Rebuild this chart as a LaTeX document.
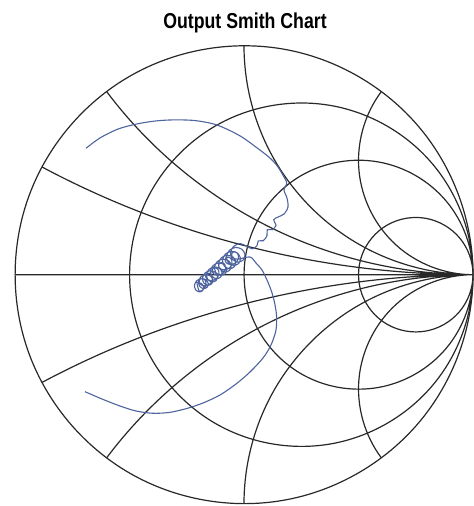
\documentclass[border=0pt]{standalone}
\usepackage{fontspec}
\setmainfont{Liberation Sans}
\usepackage{pgfplots}
\pgfplotsset{compat=1.18}
\usepgfplotslibrary{smithchart}

\definecolor{gridc}{RGB}{40,40,40}
\definecolor{trace}{RGB}{78,100,158}

\begin{document}
\begin{tikzpicture}
\useasboundingbox (-122bp,-115.65bp) rectangle (115bp,137.35bp);
\begin{smithchart}[
    at={(0,0)}, anchor=center,
    scale only axis, width=229bp,
    xtick={0.3333333,1,3},
    ytick={-2,-1,-0.5,-0.25,0,0.25,0.5,1,2},
    minor xtick={}, minor ytick={},
    xticklabels={}, yticklabels={},
    major tick length=0pt,
    grid=major,
    grid style={gridc, line width=0.6bp},
    axis line style={gridc, line width=0.6bp},
  ]
  % trace, reflection coefficient (Re, Im)
  \addplot[is smithchart cs, trace, line width=0.55bp, smooth, tension=0.5] coordinates {
    (-0.690,0.552) (-0.629,0.597) (-0.550,0.636) (-0.469,0.658) (-0.389,0.671)
    (-0.309,0.676) (-0.214,0.673) (-0.119,0.654) (-0.017,0.606) (0.070,0.544)
    (0.114,0.509) (0.143,0.478) (0.170,0.435) (0.1865,0.4004)
    (0.1747,0.3699) (0.1878,0.3349) (0.1921,0.2956) (0.1747,0.2650) (0.1485,0.2519)
    (0.1300,0.2400) (0.1397,0.2150) (0.1235,0.1965) (0.1017,0.1965) (0.1004,0.1703)
    (0.0842,0.1484) (0.0624,0.1478) (0.0568,0.1266) (0.0362,0.1129) (0.0100,0.1253)
    (-0.0175,0.1361) (-0.0458,0.1231) (-0.0589,0.0952) (-0.0503,0.0674)
    (-0.0269,0.0548) (-0.0036,0.0637) (0.0044,0.0873) (-0.0085,0.1107)
    (-0.0363,0.1191) (-0.0638,0.1066) (-0.0764,0.0794) (-0.0682,0.0526)
    (-0.0457,0.0404) (-0.0233,0.0489) (-0.0155,0.0716) (-0.0282,0.0941)
    (-0.0550,0.1021) (-0.0816,0.0899) (-0.0938,0.0637) (-0.0861,0.0378)
    (-0.0644,0.0260) (-0.0430,0.0340) (-0.0356,0.0559) (-0.0480,0.0774)
    (-0.0738,0.0851) (-0.0995,0.0733) (-0.1113,0.0480) (-0.1039,0.0229)
    (-0.0832,0.0116) (-0.0626,0.0192) (-0.0557,0.0402) (-0.0676,0.0608)
    (-0.0926,0.0681) (-0.1173,0.0567) (-0.1289,0.0323) (-0.1218,0.0081)
    (-0.1020,-0.0028) (-0.0823,0.0044) (-0.0757,0.0244) (-0.0872,0.0443)
    (-0.1113,0.0511) (-0.1352,0.0400) (-0.1463,0.0166) (-0.1397,-0.0067)
    (-0.1207,-0.0174) (-0.1020,-0.0104) (-0.0958,0.0087) (-0.1069,0.0276)
    (-0.1301,0.0341) (-0.1530,0.0234) (-0.1638,0.0009) (-0.1575,-0.0215)
    (-0.1395,-0.0318) (-0.1216,-0.0252) (-0.1158,-0.0070) (-0.1266,0.0109)
    (-0.1489,0.0171) (-0.1709,0.0068) (-0.1813,-0.0149) (-0.1754,-0.0363)
    (-0.1583,-0.0462) (-0.1414,-0.0400) (-0.1359,-0.0227) (-0.1463,-0.0057)
    (-0.1676,0.0001) (-0.1888,-0.0098) (-0.1987,-0.0306) (-0.1933,-0.0512)
    (-0.1770,-0.0606) (-0.1610,-0.0549) (-0.1559,-0.0385) (-0.1660,-0.0223)
    (-0.1864,-0.0169) (-0.2067,-0.0264) (-0.2163,-0.0463) (-0.2111,-0.0660)
    (-0.1958,-0.0750) (-0.1806,-0.0697) (-0.1760,-0.0542) (-0.1856,-0.0389)
    (-0.2052,-0.0339)
    (-0.1950,-0.0720) (-0.1759,-0.0627) (-0.1659,-0.0442) (-0.1688,-0.0257)
    (-0.1808,-0.0163) (-0.1929,-0.0198) (-0.1958,-0.0325) (-0.1858,-0.0452)
    (-0.1667,-0.0487) (-0.1475,-0.0394) (-0.1376,-0.0208) (-0.1404,-0.0023)
    (-0.1525,0.0070) (-0.1646,0.0035) (-0.1674,-0.0092) (-0.1575,-0.0219)
    (-0.1383,-0.0253) (-0.1192,-0.0160) (-0.1093,0.0025) (-0.1121,0.0210)
    (-0.1242,0.0303) (-0.1362,0.0269) (-0.1391,0.0142) (-0.1291,0.0015)
    (-0.1100,-0.0020) (-0.0909,0.0073) (-0.0809,0.0258) (-0.0838,0.0444)
    (-0.0958,0.0537) (-0.1079,0.0502) (-0.1108,0.0375) (-0.1008,0.0248)
    (-0.0817,0.0213) (-0.0625,0.0307) (-0.0526,0.0492) (-0.0554,0.0677)
    (-0.0675,0.0770) (-0.0796,0.0735) (-0.0824,0.0608) (-0.0725,0.0482)
    (-0.0533,0.0447) (-0.0342,0.0540) (-0.0243,0.0725) (-0.0271,0.0910)
    (-0.0392,0.1003) (-0.0512,0.0969) (-0.0541,0.0842) (-0.0441,0.0715)
    (-0.0250,0.0680)
    (0.0262,0.0773) (0.0524,0.0511) (0.0786,0.0205) (0.1004,-0.0231)
    (0.1179,-0.0668) (0.1310,-0.1105) (0.1419,-0.1760) (0.1397,-0.2415)
    (0.1179,-0.3070) (0.0830,-0.3638) (0.0262,-0.4249) (-0.0349,-0.4773)
    (-0.1048,-0.5253) (-0.1790,-0.5603) (-0.2502,-0.5843) (-0.3231,-0.6009)
    (-0.3961,-0.6052) (-0.4716,-0.5952) (-0.5415,-0.5734) (-0.6201,-0.5428)
    (-0.6943,-0.5109)
  };
\end{smithchart}
\node[anchor=base, inner sep=0pt] at (0.5bp,122.9bp)
  {\scalebox{0.82}[1]{\fontsize{10.8bp}{13bp}\selectfont\bfseries Output Smith Chart}};
\end{tikzpicture}
\end{document}
